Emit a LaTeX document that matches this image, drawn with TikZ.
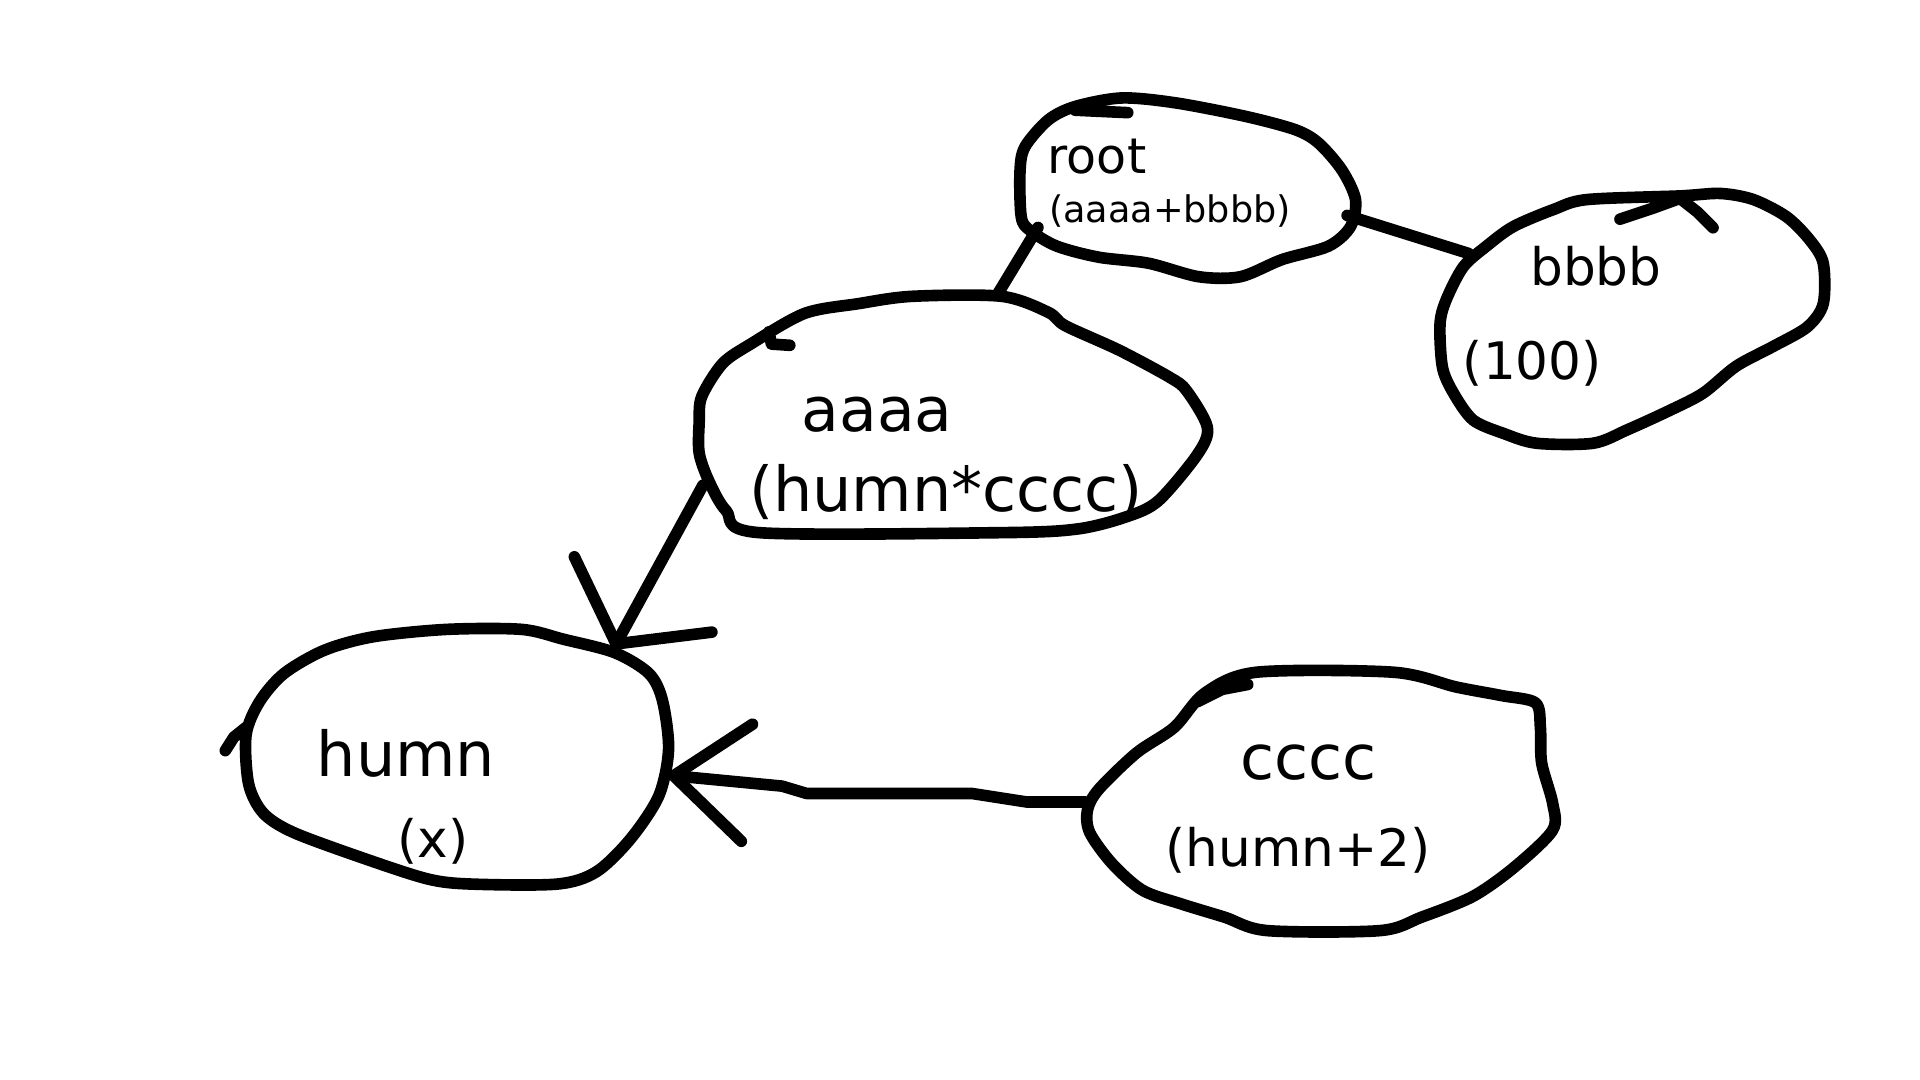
\documentclass[tikz,border=0pt]{standalone}
\usepackage{fontspec}
\setmainfont{DejaVu Sans}
\usetikzlibrary{shapes.geometric,arrows.meta,positioning}
\tikzset{%
  blobSpot/.style={%
    ellipse,
    inner sep=0pt
  },
  boxSpot/.style={%
    rectangle,
    inner sep=0pt
  },
  blobLine/.style={%
    line width=2.7pt,
    line cap=round,
    line join=round
  },
  linkLine/.style={%
    line width=2.7pt,
    line cap=round,
    line join=round
  },
  arrowLine/.style={%
    linkLine,
    -{Straight Barb[length=0.6cm,width=0.96cm,round]}
  },
  labelText/.style={%
    anchor=base west,
    inner sep=0pt
  }
}

\begin{document}
\begin{tikzpicture}[x=0.01cm,y=-0.01cm]
  \useasboundingbox[fill=white] (0,0) rectangle (1568,882);

  % spots the links attach to
  \node[blobSpot, minimum width=2.73cm, minimum height=1.43cm] (root) at (970,153) {};
  \node[blobSpot, minimum width=3.13cm, minimum height=2.04cm] (bbbb) at (1333,261) {};
  \node[boxSpot, minimum width=4.14cm, minimum height=1.93cm] (aaaa) at (779,338) {};
  \node[blobSpot, minimum width=3.47cm, minimum height=2.09cm] (humn) at (373,618) {};
  \node[boxSpot, minimum width=3.83cm, minimum height=2.12cm] (cccc) at (1079,655) {};

  % hand drawn outlines
  \draw[blobLine] plot[smooth cycle, tension=0.5] coordinates {(833,140) (834,177) (841,188) (863,201) (897,210) (938,215) (979,226) (1013,226) (1047,212) (1085,201) (1103,185) (1107,163) (1096,139) (1077,117) (1058,106) (1017,95) (960,84) (916,80) (878,87) (856,98) (837,120)}
    (878,90) -- (921,92);
  \draw[blobLine] plot[smooth cycle, tension=0.5] coordinates {(1176,265) (1178,300) (1187,321) (1203,343) (1228,354) (1255,362) (1301,362) (1329,351) (1364,335) (1391,321) (1418,299) (1448,283) (1476,267) (1489,248) (1489,215) (1478,196) (1459,177) (1432,163) (1405,158) (1372,160) (1296,163) (1269,171) (1236,185) (1214,201) (1195,218) (1181,245)}
    (1323,179) -- (1350,170) -- (1372,162) -- (1386,173) -- (1399,186);
  \draw[blobLine] plot[smooth cycle, tension=0.5] coordinates {(571,345) (573,324) (590,297) (613,281) (657,256) (701,248) (745,242) (818,242) (856,255) (870,266) (914,286) (955,308) (969,319) (986,349) (978,371) (946,409) (920,422) (880,432) (818,435) (620,435) (593,417) (579,393) (571,370)}
    (628,271) -- (630,281) -- (645,282);
  \draw[blobLine] plot[smooth cycle, tension=0.5] coordinates {(201,600) (203,640) (215,664) (240,680) (300,702) (350,718) (385,722) (455,722) (487,712) (515,685) (538,650) (546,612) (541,572) (530,550) (502,533) (460,522) (426,514) (365,514) (305,520) (265,531) (232,550) (212,573)}
    (184,613) -- (191,602) -- (201,594);
  \draw[blobLine] plot[smooth cycle, tension=0.5] coordinates {(888,662) (890,680) (908,705) (933,727) (964,738) (1000,749) (1035,760) (1127,760) (1161,749) (1203,732) (1237,708) (1268,678) (1268,656) (1259,623) (1258,594) (1254,574) (1226,568) (1189,561) (1138,549) (1026,549) (984,566) (959,594) (928,615) (897,645)}
    (978,573) -- (998,563) -- (1019,559);

  \node[labelText, font=\fontsize{11.4}{13}\selectfont] (rootName) at (855,142) {root};
  \node[labelText, font=\fontsize{8.5}{10}\selectfont] (rootExpr) at (856,182) {(aaaa+bbbb)};
  \node[labelText, font=\fontsize{12}{14}\selectfont] (bbbbName) at (1249,233) {bbbb};
  \node[labelText, font=\fontsize{12}{14}\selectfont] (bbbbVal) at (1194,310) {(100)};
  \node[labelText, font=\fontsize{14.3}{17}\selectfont] (aaaaName) at (654,352) {aaaa};
  \node[labelText, font=\fontsize{14.4}{17}\selectfont] (aaaaExpr) at (611,418) {(humn*cccc)};
  \node[labelText, font=\fontsize{14.4}{17}\selectfont] (humnName) at (258,634) {humn};
  \node[labelText, font=\fontsize{12}{14}\selectfont] (humnVal) at (324,700) {(x)};
  \node[labelText, font=\fontsize{14.4}{17}\selectfont] (ccccName) at (1012,637) {cccc};
  \node[labelText, font=\fontsize{12}{14}\selectfont] (ccccExpr) at (951,708) {(humn+2)};

  \draw[linkLine] (root.195) -- (aaaa.70);
  \draw[linkLine] (root.350) -- (bbbb.158);
  \draw[arrowLine, -{Straight Barb[length=0.46cm,width=1.28cm,round]}, shorten <=-0.06cm, shorten >=0.14cm] (aaaa.197) -- (humn.32);
  \draw[arrowLine] (cccc.west) -- ++(-48,0) -- ++(-45,-7) -- ++(-135,0) -- ++(-20,-6) -- (humn.355);
\end{tikzpicture}
\end{document}
